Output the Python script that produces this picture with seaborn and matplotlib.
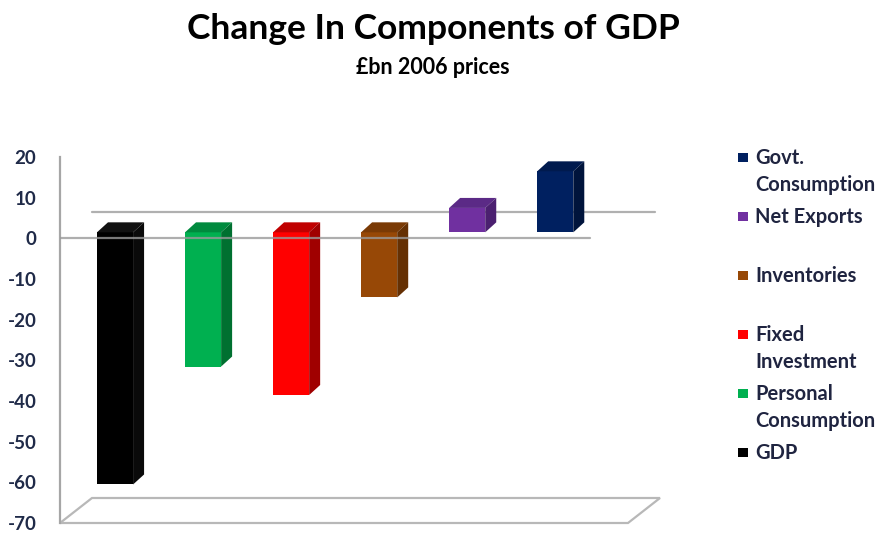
import numpy as np
import pandas as pd
import matplotlib
matplotlib.use("Agg")
import matplotlib.pyplot as plt
from matplotlib.patches import Polygon, Rectangle
from matplotlib.transforms import ScaledTranslation
import seaborn as sns

# ---- data ----
categories = ["GDP", "Personal Consumption", "Fixed Investment",
              "Inventories", "Net Exports", "Govt. Consumption"]
legend_labels = ["GDP", "Personal\nConsumption", "Fixed\nInvestment",
                 "Inventories", "Net Exports", "Govt.\nConsumption"]
values = [-62, -33, -40, -16, 6, 15]
front_colors = ["#000000", "#00B050", "#FF0000", "#974806", "#7030A0", "#002060"]
top_colors = ["#111111", "#008A3E", "#C00000", "#7A3A05", "#5B2A86", "#001A4E"]
side_colors = ["#0A0A0A", "#007030", "#A00000", "#653003", "#4B2070", "#00143C"]
yticks = list(range(-70, 21, 10))

title = "Change In Components of GDP"
subtitle = "£bn 2006 prices"

sns.set_theme(style="white")
plt.rcParams["font.family"] = ["Lato", "DejaVu Sans"]
plt.rcParams["axes.unicode_minus"] = False

W, H = 884, 535
fig = plt.figure(figsize=(W / 100, H / 100), dpi=100)
ax = fig.add_axes([60 / W, 12 / H, 600 / W, 366 / H])

df = pd.DataFrame({"cat": categories, "val": values})
sns.barplot(data=df, x="cat", y="val", hue="cat", palette=front_colors,
            order=categories, hue_order=categories, width=0.41,
            legend=False, ax=ax, saturation=1, linewidth=0, zorder=3)

ax.set_xlim(-0.625, 6.19)
ax.set_ylim(-70, 20)
ax.set_yticks(yticks)
ax.set_xticks([])
ax.set_xlabel("")
ax.set_ylabel("")

for s in ["top", "right", "bottom"]:
    ax.spines[s].set_visible(False)
ax.spines["left"].set_color("#A6A6A6")
ax.spines["left"].set_linewidth(1.6)
ax.tick_params(axis="y", direction="out", length=5, width=1.2, color="#A6A6A6",
               pad=12, labelsize=13.5, labelcolor="#1F2A48")
for lab in ax.get_yticklabels():
    lab.set_fontweight("bold")

# pixel -> data conversion
def px2data(dx_px, dy_px):
    p0 = ax.transData.transform((0, 0))
    q = ax.transData.inverted().transform(p0 + np.array([dx_px, dy_px]))
    return q[0], q[1]

# bars sit behind the front plane: shift up slightly
shift = ScaledTranslation(0, 6 / 100, fig.dpi_scale_trans)
dx, dy = px2data(11, 10)
for i, p in enumerate(ax.patches):
    p.set_transform(ax.transData + shift)
    x0 = p.get_x(); x1 = x0 + p.get_width()
    v = values[i]
    ytop, ybot = max(0, v), min(0, v)
    top = Polygon([(x0, ytop), (x1, ytop), (x1 + dx, ytop + dy), (x0 + dx, ytop + dy)],
                  closed=True, facecolor=top_colors[i], edgecolor="none",
                  transform=ax.transData + shift, zorder=3)
    side = Polygon([(x1, ybot), (x1, ytop), (x1 + dx, ytop + dy), (x1 + dx, ybot + dy)],
                   closed=True, facecolor=side_colors[i], edgecolor="none",
                   transform=ax.transData + shift, zorder=3)
    ax.add_patch(top)
    ax.add_patch(side)

# gridlines: back wall zero and front zero
fdx, fdy = px2data(32, 25)
back_zero = px2data(0, 26)[1]
ax.axhline(back_zero, xmin=32 / 600, xmax=595 / 600, color="#B0B0B0", lw=1.6, zorder=1)
ax.axhline(0, xmin=0, xmax=530 / 600, color="#9A9A9A", lw=1.6, alpha=0.8, zorder=5)

# floor
xl0, xl1 = ax.get_xlim()
ym = -70
xr_front = xl0 + (568 / 600) * (xl1 - xl0)
floor = Polygon([(xl0, ym), (xl0 + fdx, ym + fdy), (xl1, ym + fdy), (xr_front, ym)],
                closed=True, facecolor="white", edgecolor="#B8B8B8", lw=1.6,
                clip_on=False, zorder=2)
ax.add_patch(floor)

# titles
fig.text(433 / W, 1 - 29 / H, title, ha="center", va="center",
         fontsize=25.5, fontweight="bold", color="#000000")
fig.text(433 / W, 1 - 68 / H, subtitle, ha="center", va="center",
         fontsize=15.5, fontweight="bold", color="#000000")

# legend (top to bottom reversed order)
slot = 59
for k, idx in enumerate(reversed(range(len(categories)))):
    yc = 158 + slot * k
    fig.add_artist(Rectangle(((738) / W, 1 - (yc + 4) / H), 10 / W, 9 / H,
                             transform=fig.transFigure, facecolor=front_colors[idx],
                             edgecolor="none"))
    for j, line in enumerate(legend_labels[idx].split("\n")):
        fig.text(755 / W, 1 - (yc + 27 * j) / H, line, ha="left", va="center",
                 fontsize=14.5, fontweight="bold", color="#1F2440")

fig.savefig("out.png", dpi=100)
